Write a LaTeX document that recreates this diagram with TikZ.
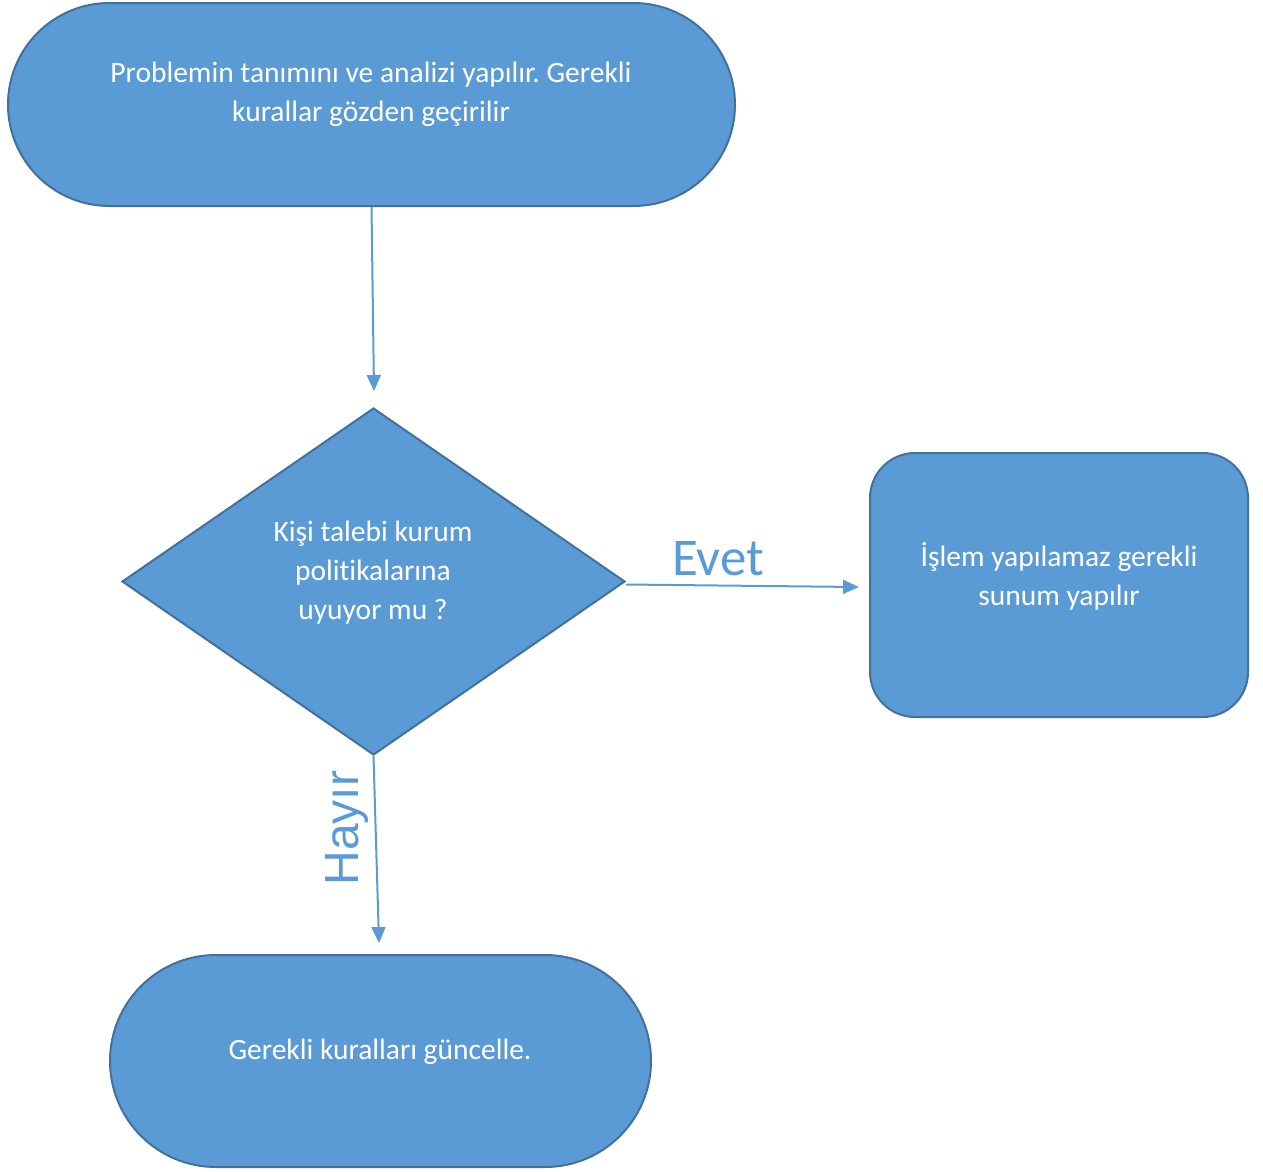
\documentclass[tikz,border=0pt]{standalone}
\usepackage{fontspec}
\setmainfont{Carlito}[Ligatures={NoCommon}]
\newfontfamily\arialfont{Liberation Sans}
\usetikzlibrary{shapes.geometric,shapes.misc,arrows.meta}
\definecolor{boxfill}{HTML}{5B9BD5}
\definecolor{boxline}{HTML}{41719C}
\frenchspacing
\begin{document}
\begin{tikzpicture}[x=1pt,y=-1pt,
  shapebox/.style={fill=boxfill,draw=boxline,line width=2pt,inner sep=0pt},
  txt/.style={text=white,font=\fontsize{29.5}{39}\selectfont,align=center},
  conn/.style={draw=boxfill,line width=2pt,-{Triangle[length=16pt,width=14pt]}},
  lbl/.style={text=boxfill}
]
\useasboundingbox (0,0) rectangle (1263,1171);
\node[shapebox,rounded rectangle,minimum width=727pt,minimum height=203pt] (start) at (371.5,104.5) {};
\node[txt] (starttext) at (371,94) {Problemin tanımını ve analizi yapılır. Gerekli\\kurallar gözden geçirilir};
\node[shapebox,diamond,minimum width=503pt,minimum height=347pt] (dec) at (373.5,581.5) {};
\node[txt] (dectext) at (373,573) {Kişi talebi kurum\\politikalarına\\uyuyor mu ?};
\node[shapebox,rectangle,rounded corners=45pt,minimum width=378pt,minimum height=264pt] (yes) at (1059,585) {};
\node[txt] (yestext) at (1059,576.5) {İşlem yapılamaz gerekli\\sunum yapılır};
\node[shapebox,rounded rectangle,minimum width=541pt,minimum height=212pt] (no) at (380.5,1061) {};
\node[txt] (notext) at (380,1052) {Gerekli kuralları güncelle.};
\coordinate (a1) at (374,391);
\coordinate (a2) at (859,587);
\coordinate (a3) at (379,943);
\draw[conn] (start.south) -- (a1);
\draw[conn] ([yshift=-3pt]dec.east) -- (a2);
\draw[conn] (dec.south) -- (a3);
\node[lbl,font=\fontsize{53}{56}\selectfont] (evet) at (718,559) {Evet};
\node[lbl,font=\arialfont\fontsize{48}{52}\selectfont,rotate=90] (hayir) at (347,828) {Hayır};
\end{tikzpicture}
\end{document}
